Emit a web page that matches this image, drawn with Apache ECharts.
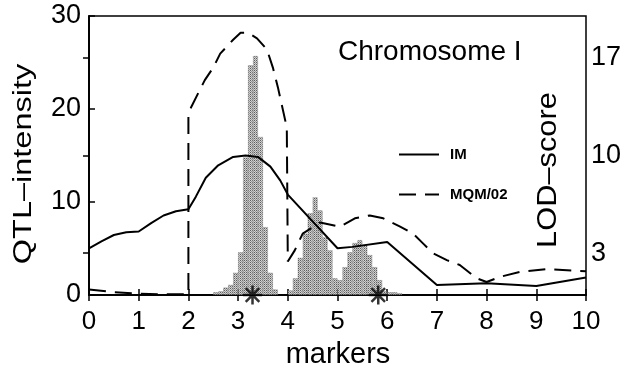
<!DOCTYPE html>
<html>
<head>
<meta charset="utf-8">
<script src="https://cdn.jsdelivr.net/npm/echarts@6/dist/echarts.min.js"></script>
<style>
  html, body { margin: 0; padding: 0; background: #fff; }
  #chart { width: 628px; height: 374px; }
</style>
</head>
<body>
<div id="chart"></div>
<script>
// Histogram of QTL positions (bin centres in marker units, intensity per bin)
const histMarkers = [2.55, 2.65, 2.75, 2.85, 2.95, 3.05, 3.15, 3.25, 3.35, 3.45, 3.55, 3.65, 3.75,
                     4.05, 4.15, 4.25, 4.35, 4.45, 4.55, 4.65, 4.75, 4.85, 4.95,
                     5.05, 5.15, 5.25, 5.35, 5.45, 5.55, 5.65, 5.75, 5.85, 5.95, 6.05, 6.15, 6.25];
const histIntensity = [0.3, 0.4, 0.8, 1.1, 2.4, 4.6, 14.8, 24.7, 25.7, 17.0, 7.3, 2.4, 0.6,
                       0.5, 1.8, 4.0, 6.6, 8.8, 10.5, 9.1, 6.2, 4.8, 1.8,
                       1.6, 3.0, 4.6, 5.6, 5.9, 5.4, 4.3, 3.0, 1.6, 0.4, 0.3, 0.3, 0.2];

// Interval mapping LOD profile
const imMarkers = [0, 0.25, 0.5, 0.75, 1.0, 1.25, 1.5, 1.75, 2.0, 2.15, 2.35, 2.6, 2.9, 3.15, 3.4,
                   3.65, 3.85, 4.0, 5.0, 5.3, 6.0, 7.0, 8.0, 9.0, 10.0];
const imLod = [3.35, 3.85, 4.3, 4.5, 4.55, 5.15, 5.7, 6.0, 6.15, 7.05, 8.4, 9.3, 9.9, 10.0, 9.9,
               9.2, 8.2, 7.2, 3.35, 3.45, 3.8, 0.72, 0.84, 0.65, 1.25];

// MQM/02 LOD profile (vertical steps where cofactors enter)
const mqmMarkers = [0, 0.5, 1.0, 1.5, 2.0, 2.0, 2.06, 2.23, 2.33, 2.5, 2.64, 2.9, 3.05, 3.2, 3.38,
                    3.58, 3.7, 3.8, 3.98, 4.0, 4.14, 4.3, 4.65, 5.05, 5.35, 5.65, 5.92, 6.26,
                    6.52, 6.72, 6.92, 7.2, 7.46, 7.8, 8.0, 8.27, 8.67, 9.2, 9.84, 10.0];
const mqmLod = [0.4, 0.2, 0.1, 0.05, 0.05, 13.0, 13.5, 14.7, 15.4, 16.3, 17.3, 18.3, 18.8, 18.8, 18.4,
                17.6, 16.3, 14.9, 12.0, 2.4, 3.2, 4.4, 5.2, 4.9, 5.5, 5.7, 5.5, 4.9,
                4.4, 3.7, 3.0, 2.5, 2.15, 1.2, 0.93, 1.3, 1.65, 1.86, 1.72, 1.7];

// Marker positions of the detected QTLs
const qtlMarkers = [3.29, 5.82];

// Axis tick values
const lodTicks = [3, 10, 17];

const zip = (xs, ys) => xs.map((x, i) => [x, ys[i]]);

// Stippled grey fill for the histogram bars
function stipple() {
  const c = document.createElement('canvas');
  c.width = 2; c.height = 2;
  const g = c.getContext('2d');
  g.fillStyle = '#d2d2d2'; g.fillRect(0, 0, 2, 2);
  g.fillStyle = '#5e5e5e'; g.fillRect(0, 0, 1, 1);
  g.fillStyle = '#989898'; g.fillRect(1, 1, 1, 1);
  return c;
}

const FONT = "'Liberation Sans', Arial, Helvetica, sans-serif";
const chart = echarts.init(document.getElementById('chart'), null, { renderer: 'canvas' });

chart.setOption({
  animation: false,
  backgroundColor: '#fff',
  grid: { left: 89, right: 42, top: 16, bottom: 79, show: true, borderColor: '#000', borderWidth: 1.5 },
  legend: {
    orient: 'vertical', left: 398, top: 147, padding: 0,
    itemWidth: 40, itemHeight: 14, itemGap: 25,
    data: ['IM', 'MQM/02'],
    itemStyle: { opacity: 0 },
    textStyle: { fontFamily: FONT, fontSize: 15, fontWeight: 'bold', color: '#000', padding: [0, 0, 0, 6] }
  },
  xAxis: [
    {
      type: 'value', min: 0, max: 10, interval: 1, position: 'bottom',
      axisLine: { lineStyle: { color: '#000', width: 1.5 } },
      axisTick: { inside: true, length: 6, lineStyle: { color: '#000', width: 1.5 } },
      axisLabel: { fontFamily: FONT, fontSize: 26, color: '#000', margin: 14 },
      splitLine: { show: false }
    },
    {
      type: 'value', min: 0, max: 10, interval: 1, position: 'top',
      axisLine: { lineStyle: { color: '#000', width: 1.5 } },
      axisTick: { inside: true, length: 6, lineStyle: { color: '#000', width: 1.5 } },
      axisLabel: { show: false },
      splitLine: { show: false }
    }
  ],
  yAxis: [
    {
      type: 'value', min: 0, max: 30, interval: 10, position: 'left',
      axisLine: { show: true, lineStyle: { color: '#000', width: 1.5 } },
      axisTick: { show: true, inside: true, length: 6, lineStyle: { color: '#000', width: 1.5 } },
      axisLabel: { fontFamily: FONT, fontSize: 27, color: '#000', margin: 8 },
      splitLine: { show: false }
    },
    {
      type: 'value', min: 0, max: 20, position: 'right',
      axisLine: { show: true, lineStyle: { color: '#000', width: 1.5 } },
      axisTick: { show: true, inside: true, length: 6, customValues: lodTicks, lineStyle: { color: '#000', width: 1.5 } },
      axisLabel: { fontFamily: FONT, fontSize: 27, color: '#000', margin: 5, customValues: lodTicks },
      splitLine: { show: false }
    }
  ],
  graphic: [
    {
      type: 'text', x: 338, y: 52,
      style: { text: 'Chromosome I', font: '28px ' + FONT, fill: '#000', align: 'left', verticalAlign: 'middle' }
    },
    {
      type: 'text', x: 24, y: 164, rotation: Math.PI / 2, scaleX: 1.25,
      style: { text: 'QTL–intensity', font: '26px ' + FONT, fill: '#000', align: 'center', verticalAlign: 'middle' }
    },
    {
      type: 'text', x: 548, y: 170, rotation: Math.PI / 2, scaleX: 1.1,
      style: { text: 'LOD–score', font: '28px ' + FONT, fill: '#000', align: 'center', verticalAlign: 'middle' }
    },
    {
      type: 'text', x: 338, y: 355,
      style: { text: 'markers', font: '29px ' + FONT, fill: '#000', align: 'center', verticalAlign: 'middle' }
    }
  ],
  series: [
    {
      name: 'QTL-intensity', type: 'bar', xAxisIndex: 0, yAxisIndex: 0,
      barWidth: 5, barGap: '0%',
      data: zip(histMarkers, histIntensity),
      itemStyle: { color: { image: stipple(), repeat: 'repeat' }, borderColor: '#5a5a5a', borderWidth: 0.6, borderType: 'dotted' },
      z: 1
    },
    {
      name: 'IM', type: 'line', xAxisIndex: 0, yAxisIndex: 1,
      data: zip(imMarkers, imLod), symbol: 'none', smooth: false,
      lineStyle: { color: '#000', width: 2 }, itemStyle: { color: '#000' }, z: 3
    },
    {
      name: 'MQM/02', type: 'line', xAxisIndex: 0, yAxisIndex: 1,
      data: zip(mqmMarkers, mqmLod), symbol: 'none', smooth: false,
      lineStyle: { color: '#000', width: 2, type: [17, 9] }, itemStyle: { color: '#000' }, z: 3
    },
    {
      name: 'QTL', type: 'scatter', xAxisIndex: 0, yAxisIndex: 0, clip: false,
      data: qtlMarkers.map(m => [m, 0]),
      symbol: 'path://M0,-7L0,7M-7,0L7,0M-5,-5L5,5M-5,5L5,-5',
      symbolSize: 19,
      itemStyle: { color: 'none', borderColor: '#000', borderWidth: 2.5 }, z: 4
    }
  ]
});
</script>
</body>
</html>
